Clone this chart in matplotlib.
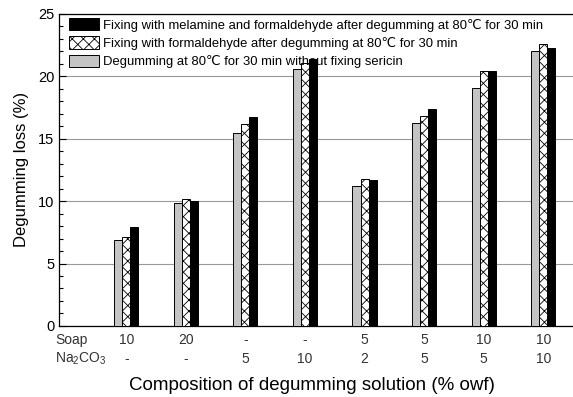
import matplotlib
matplotlib.use("Agg")
import matplotlib.pyplot as plt
import numpy as np

plt.rcParams["font.family"] = ["Liberation Sans", "DejaVu Sans"]
plt.rcParams["mathtext.fontset"] = "custom"
plt.rcParams["mathtext.rm"] = "Liberation Sans"
plt.rcParams["mathtext.default"] = "regular"
plt.rcParams["hatch.linewidth"] = 0.6

soap = ["10", "20", "-", "-", "5", "5", "10", "10"]
na2co3 = ["-", "-", "5", "10", "2", "5", "5", "10"]

degum_only = [6.9, 9.85, 15.45, 20.55, 11.25, 16.25, 19.1, 22.05]
fix_formaldehyde = [7.15, 10.15, 16.15, 21.1, 11.8, 16.85, 20.4, 22.6]
fix_melamine = [7.9, 10.0, 16.75, 21.35, 11.7, 17.4, 20.4, 22.25]

labels = [
    "Fixing with melamine and formaldehyde after degumming at 80\u2103 for 30 min",
    "Fixing with formaldehyde after degumming at 80\u2103 for 30 min",
    "Degumming at 80\u2103 for 30 min without fixing sericin",
]

fig = plt.figure(figsize=(5.73, 3.97), dpi=100)
ax = fig.add_axes([0.103, 0.179, 0.897, 0.786])

x = np.arange(1, len(soap) + 1)
w = 0.135
b_gray = ax.bar(x - w, degum_only, w, color="#c4c4c4", edgecolor="black", linewidth=0.7, zorder=3)
b_hatch = ax.bar(x, fix_formaldehyde, w, color="white", edgecolor="black", hatch="xxx",
                 linewidth=0.7, zorder=3)
b_black = ax.bar(x + w, fix_melamine, w, color="black", edgecolor="black", linewidth=0.7, zorder=3)

ax.set_xlim(-0.13, 8.5)
ax.set_ylim(0, 25)
ax.set_yticks([0, 5, 10, 15, 20, 25])
ax.set_yticks(np.arange(0, 26, 1), minor=True)
ax.tick_params(axis="y", which="major", direction="in", length=5, labelsize=10.5, width=0.8)
ax.tick_params(axis="y", which="minor", direction="in", length=3, width=0.8)
ax.set_xticks([])
ax.grid(axis="y", color="#999999", linewidth=0.8, zorder=0)
ax.spines["right"].set_visible(False)
for s in ["left", "bottom", "top"]:
    ax.spines[s].set_linewidth(0.9)

ax.set_ylabel("Degumming loss (%)", fontsize=12, labelpad=6)

trans = ax.get_xaxis_transform()
for xi, s, n in zip(x, soap, na2co3):
    ax.text(xi, -0.045, s, transform=trans, ha="center", va="center", fontsize=10, color="#333333")
    ax.text(xi, -0.106, n, transform=trans, ha="center", va="center", fontsize=10, color="#333333")
fig.text(55 / 573, 1 - 340 / 397, "Soap", ha="left", va="center", fontsize=10, color="#333333")
fig.text(55 / 573, 1 - 359 / 397, "Na$_2$CO$_3$", ha="left", va="center", fontsize=10, color="#333333")
fig.text(0.545, 1 - 385 / 397, "Composition of degumming solution (% owf)", ha="center", va="center",
         fontsize=13.5)

ax.legend([b_black, b_hatch, b_gray], labels, loc="upper left", bbox_to_anchor=(0.005, 1.01),
          frameon=False, fontsize=9.4, handlelength=2.3, handleheight=1.1, handletextpad=0.35,
          labelspacing=0.35, borderaxespad=0.3, borderpad=0.25)

fig.savefig("out.png", dpi=100)
